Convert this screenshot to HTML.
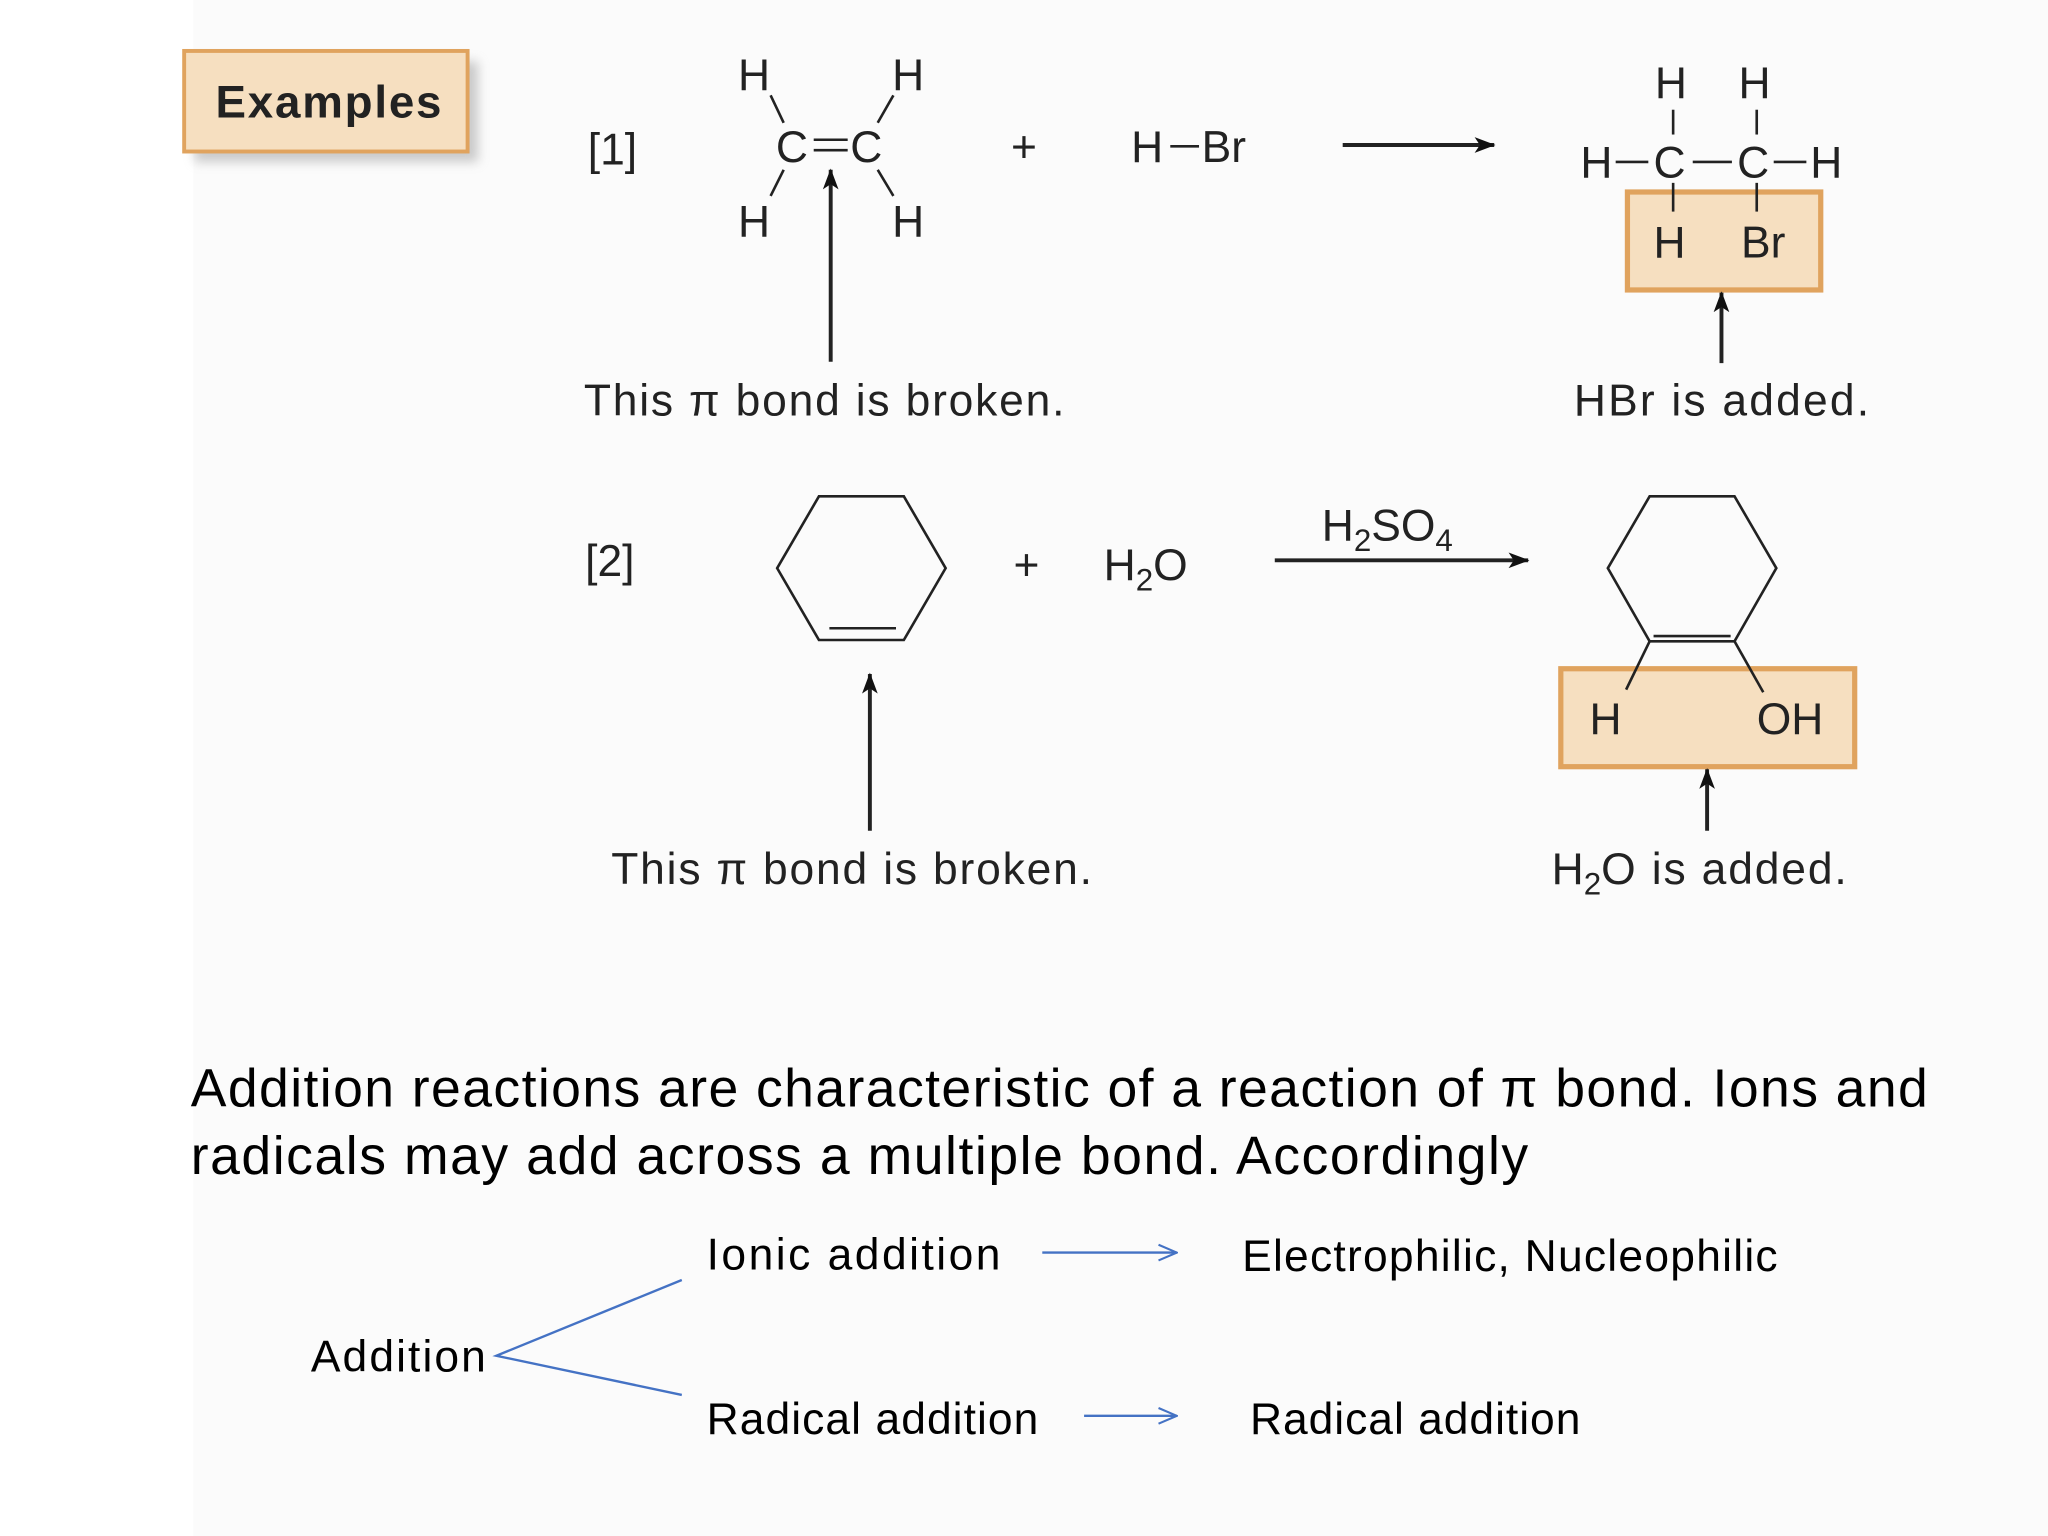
<!DOCTYPE html>
<html><head><meta charset="utf-8"><style>html,body{margin:0;padding:0;background:#fff}svg{display:block}</style></head>
<body>
<svg width="2048" height="1536" viewBox="0 0 1568 1176" xmlns="http://www.w3.org/2000/svg" font-family="Liberation Sans, sans-serif">
<defs>
<marker id="ah" markerWidth="16" markerHeight="14" refX="15" refY="7" orient="auto" markerUnits="userSpaceOnUse"><path d="M0,1 L16,7 L0,13 L4,7 Z" fill="#111"/></marker>
<marker id="ab" markerWidth="16" markerHeight="14" refX="15" refY="7" orient="auto" markerUnits="userSpaceOnUse"><path d="M1,1 L15,7 L1,13" fill="none" stroke="#4472c4" stroke-width="1.6"/></marker>
<filter id="sh" x="-20%" y="-20%" width="150%" height="160%"><feGaussianBlur stdDeviation="4"/></filter>
</defs>
<rect width="1568" height="1176" fill="#fff"/>
<rect x="148" y="0" width="1420" height="1176" fill="#fbfbfb"/>
<rect x="149" y="47" width="217" height="77" fill="#999" opacity="0.5" filter="url(#sh)"/>
<rect x="141" y="39" width="217" height="77" fill="#f6dfc0" stroke="#e0a35e" stroke-width="3"/>
<text x="165" y="90" font-size="35" font-weight="bold" fill="#222" textLength="173">Examples</text>
<g fill="#222" font-size="34">
<text x="450" y="126">[1]</text>
<text x="565" y="69">H</text><text x="683" y="69">H</text>
<text x="594" y="124">C</text><text x="651" y="124">C</text>
<text x="565" y="181">H</text><text x="683" y="181">H</text>
<text x="774" y="124">+</text>
<text x="866" y="124">H</text><text x="920" y="124">Br</text>
<text x="447" y="318" textLength="368">This π bond is broken.</text>
<text x="1267" y="75">H</text><text x="1331" y="75">H</text>
<text x="1210" y="136">H</text><text x="1266" y="136">C</text><text x="1330" y="136">C</text><text x="1386" y="136">H</text>
<text x="1205" y="318" textLength="226">HBr is added.</text>
<text x="448" y="441">[2]</text>
<text x="776" y="444">+</text>
<text x="845" y="444">H<tspan font-size="24" dy="8">2</tspan><tspan dy="-8">O</tspan></text>
<text x="1012" y="414">H<tspan font-size="24" dy="8">2</tspan><tspan dy="-8">SO</tspan><tspan font-size="24" dy="8">4</tspan></text>
<text x="468" y="677" textLength="368">This π bond is broken.</text>
<text x="1188" y="677">H<tspan font-size="24" dy="8">2</tspan><tspan dy="-8" textLength="188">O is added.</tspan></text>
</g>
<g stroke="#222" stroke-width="2" fill="none">
<line x1="590" y1="73" x2="600" y2="94"/><line x1="684" y1="73" x2="672" y2="94"/>
<line x1="590" y1="150" x2="600" y2="130"/><line x1="684" y1="150" x2="672" y2="130"/>
<line x1="623" y1="107" x2="649" y2="107"/><line x1="623" y1="115" x2="649" y2="115"/>
<line x1="636" y1="277" x2="636" y2="130" stroke-width="3" marker-end="url(#ah)"/>
<line x1="896" y1="112" x2="918" y2="112"/>
<line x1="1028" y1="111" x2="1144" y2="111" stroke-width="3" marker-end="url(#ah)"/>
<line x1="1281" y1="84" x2="1281" y2="103"/><line x1="1345" y1="84" x2="1345" y2="103"/>
<line x1="1237" y1="124" x2="1262" y2="124"/><line x1="1296" y1="124" x2="1326" y2="124"/><line x1="1358" y1="124" x2="1383" y2="124"/>
</g>
<rect x="1246" y="147" width="148" height="75" fill="#f6dfc0" stroke="#e0a35e" stroke-width="4"/>
<line x1="1281" y1="140" x2="1281" y2="162" stroke="#222" stroke-width="2"/><line x1="1345" y1="140" x2="1345" y2="162" stroke="#222" stroke-width="2"/>
<text x="1266" y="197" font-size="34" fill="#222">H</text><text x="1333" y="197" font-size="34" fill="#222">Br</text>
<line x1="1318" y1="278" x2="1318" y2="224" stroke="#222" stroke-width="3" marker-end="url(#ah)"/>
<g stroke="#222" stroke-width="2" fill="none">
<polygon points="595,435 627,380 692,380 724,435 692,490 627,490"/>
<line x1="635" y1="481" x2="686" y2="481"/>
<line x1="666" y1="636" x2="666" y2="516" stroke-width="3" marker-end="url(#ah)"/>
<line x1="976" y1="429" x2="1170" y2="429" stroke-width="3" marker-end="url(#ah)"/>
<polygon points="1231,435 1263,380 1328,380 1360,435 1328,491 1263,491"/>
<line x1="1266" y1="487" x2="1325" y2="487"/>
</g>
<rect x="1195" y="512" width="225" height="75" fill="#f6dfc0" stroke="#e0a35e" stroke-width="4"/>
<g stroke="#222" stroke-width="2"><line x1="1263" y1="491" x2="1245" y2="528"/><line x1="1328" y1="491" x2="1350" y2="530"/></g>
<text x="1217" y="562" font-size="34" fill="#222">H</text><text x="1345" y="562" font-size="34" fill="#222">OH</text>
<line x1="1307" y1="636" x2="1307" y2="589" stroke="#222" stroke-width="3" marker-end="url(#ah)"/>
<g font-size="41" fill="#000">
<text x="146" y="847" textLength="1330">Addition reactions are characteristic of a reaction of π bond. Ions and</text>
<text x="146" y="899" textLength="1024">radicals may add across a multiple bond. Accordingly</text>
</g>
<g font-size="34" fill="#000">
<text x="541" y="972" textLength="225">Ionic  addition</text>
<text x="951" y="973" textLength="410">Electrophilic, Nucleophilic</text>
<text x="238" y="1050" textLength="134">Addition</text>
<text x="541" y="1098" textLength="254">Radical addition</text>
<text x="957" y="1098" textLength="253">Radical addition</text>
</g>
<g stroke="#4472c4" stroke-width="1.8" fill="none">
<line x1="798" y1="959" x2="901" y2="959" marker-end="url(#ab)"/>
<line x1="830" y1="1084" x2="901" y2="1084" marker-end="url(#ab)"/>
<polyline points="522,980 380,1038 522,1068"/>
</g>
</svg>
</body></html>
